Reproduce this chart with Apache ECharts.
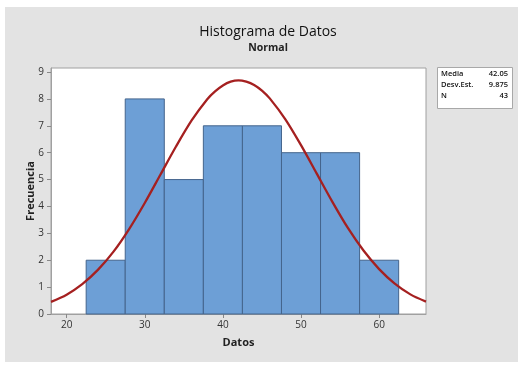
<!DOCTYPE html>
<html>
<head>
<meta charset="utf-8">
<script src="https://cdn.jsdelivr.net/npm/echarts@6/dist/echarts.min.js"></script>
<style>
html,body{margin:0;padding:0;background:#ffffff;}
#bg{position:absolute;left:5px;top:7px;width:513px;height:355px;background:#e3e3e3;}
#chart{position:absolute;left:0;top:0;width:518px;height:367px;}
</style>
</head>
<body>
<div id="bg"></div>
<div id="chart"></div>
<script>
// Histogram bins: [start, end]
var binStarts = [22.5, 27.5, 32.5, 37.5, 42.5, 47.5, 52.5, 57.5];
var binEnds   = [27.5, 32.5, 37.5, 42.5, 47.5, 52.5, 57.5, 62.5];
var counts    = [2, 8, 5, 7, 7, 6, 6, 2];
// Fitted normal curve
var curveX = [18,20,22,24,26,28,30,32,34,36,38,39,40,41,42,43,44,45,46,48,50,52,54,56,58,60,62,64,66];
var curveY = [0.45,0.72,1.11,1.64,2.32,3.16,4.13,5.18,6.23,7.20,7.99,8.28,8.50,8.64,8.69,8.64,8.52,8.31,8.02,7.24,6.28,5.23,4.18,3.20,2.36,1.67,1.13,0.73,0.46];
var xTicks = [20, 30, 40, 50, 60];
var yTicks = [0, 1, 2, 3, 4, 5, 6, 7, 8, 9];
var statLabels = ['Media', 'Desv.Est.', 'N'];
var statValues = ['42.05', '9.875', '43'];

var FONT = '"Open Sans", "Noto Sans", sans-serif';
var chart = echarts.init(document.getElementById('chart'), null, {renderer: 'canvas'});

var barData = binStarts.map(function (s, i) { return [s, binEnds[i], counts[i]]; });
var lineData = curveX.map(function (x, i) { return [x, curveY[i]]; });

var statGraphics = [{
  type: 'rect', left: 437, top: 67,
  shape: {width: 75, height: 41},
  style: {fill: '#ffffff', stroke: '#a8a8a8', lineWidth: 1}
}];
statLabels.forEach(function (l, i) {
  statGraphics.push({type: 'text', left: 441, top: 70 + i * 11,
    style: {text: l, fill: '#111', font: '600 7.5px ' + FONT}});
  statGraphics.push({type: 'text', right: 10, top: 70 + i * 11,
    style: {text: statValues[i], fill: '#111', font: '600 7.5px ' + FONT, align: 'right'}});
});

chart.setOption({
  backgroundColor: 'transparent',
  animation: false,
  title: [{
    text: 'Histograma de Datos',
    left: 263, top: 20, textAlign: 'center',
    textStyle: {fontFamily: FONT, fontSize: 14, fontWeight: 'normal', color: '#111'}
  }, {
    text: 'Normal',
    left: 263, top: 38, textAlign: 'center',
    textStyle: {fontFamily: FONT, fontSize: 10.5, fontWeight: 'bold', color: '#222'}
  }],
  grid: {left: 51, top: 68, right: 92, bottom: 53, show: true, backgroundColor: '#ffffff', borderColor: '#a0a0a0', borderWidth: 1},
  graphic: statGraphics,
  xAxis: {
    type: 'value', min: 18, max: 66,
    name: 'Datos', nameLocation: 'middle', nameGap: 23, nameMoveOverlap: false,
    nameTextStyle: {fontFamily: FONT, fontSize: 11, fontWeight: 'bold', color: '#222'},
    axisLine: {show: true, onZero: false, lineStyle: {color: '#a0a0a0'}},
    axisTick: {show: true, length: 4, customValues: xTicks, lineStyle: {color: '#888'}},
    axisLabel: {customValues: xTicks, fontFamily: FONT, fontSize: 10, color: '#333', margin: 6},
    splitLine: {show: false}
  },
  yAxis: {
    type: 'value', min: 0, max: 9.15,
    name: 'Frecuencia', nameLocation: 'middle', nameGap: 15, nameMoveOverlap: false,
    nameTextStyle: {fontFamily: FONT, fontSize: 11, fontWeight: 'bold', color: '#222'},
    axisLine: {show: true, lineStyle: {color: '#a0a0a0'}},
    axisTick: {show: true, length: 4, customValues: yTicks, lineStyle: {color: '#888'}},
    axisLabel: {customValues: yTicks, fontFamily: FONT, fontSize: 10, color: '#333', margin: 7},
    splitLine: {show: false}
  },
  series: [{
    type: 'custom',
    data: barData,
    encode: {x: [0, 1], y: 2},
    renderItem: function (params, api) {
      var p0 = api.coord([api.value(0), api.value(2)]);
      var p1 = api.coord([api.value(1), 0]);
      return {
        type: 'rect',
        shape: {x: p0[0], y: p0[1], width: p1[0] - p0[0], height: p1[1] - p0[1]},
        style: {fill: '#6d9fd6', stroke: '#44648c', lineWidth: 1}
      };
    },
    z: 2
  }, {
    type: 'line',
    data: lineData,
    smooth: 0.3,
    showSymbol: false,
    lineStyle: {color: '#a52020', width: 2.3},
    z: 3
  }]
});
</script>
</body>
</html>
